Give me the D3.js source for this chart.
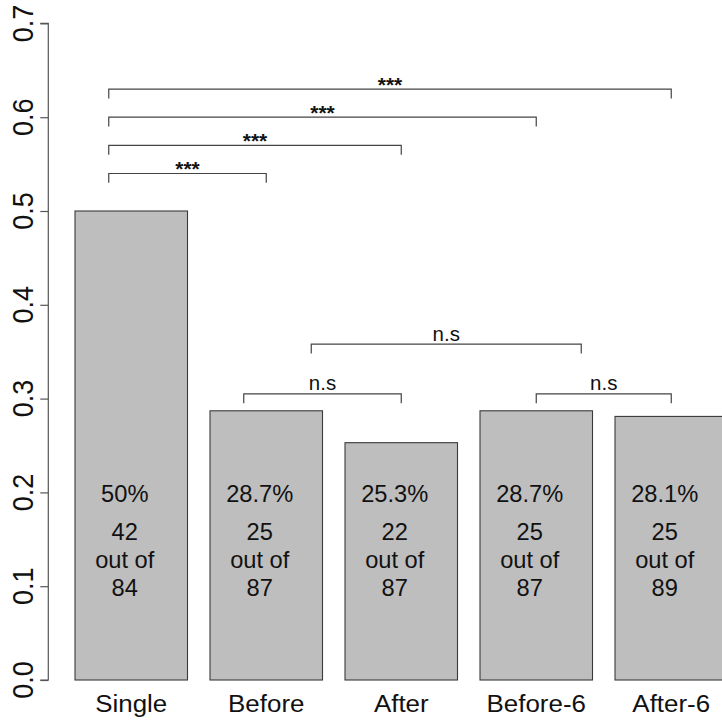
<!DOCTYPE html>
<html>
<head>
<meta charset="utf-8">
<script src="https://cdn.jsdelivr.net/npm/d3@7/dist/d3.min.js"></script>
<style>
  html, body { margin: 0; padding: 0; background: #fff; }
  svg { display: block; }
  text { font-family: "Liberation Sans", Arial, Helvetica, sans-serif; fill: #111; }
</style>
</head>
<body>
<svg id="chart" width="722" height="720"></svg>
<script>
// ---- data ----
const categories = ["Single", "Before", "After", "Before-6", "After-6"];
const proportions = [0.5, 0.287, 0.253, 0.287, 0.281];
const pctLabels = ["50%", "28.7%", "25.3%", "28.7%", "28.1%"];
const successes = [42, 25, 22, 25, 25];
const totals = [84, 87, 87, 87, 89];
const yTicks = [0, 0.1, 0.2, 0.3, 0.4, 0.5, 0.6, 0.7];

// significance comparisons (category indices) and their labels
const sigFrom = [0, 0, 0, 0, 1, 3, 1];
const sigTo = [1, 2, 3, 4, 2, 4, 3];
const sigLabels = ["***", "***", "***", "***", "n.s", "n.s", "n.s"];

// ---- layout (annotation placement, not data) ----
const sigLevel = [0.54, 0.57, 0.60, 0.63, 0.305, 0.305, 0.358];
const sigFromShift = [-0.2, -0.2, -0.2, -0.2, -0.2, 0, 0.4];
const sigToShift = [0, 0, 0, 0, 0, 0, 0.4];
const barWidth = 1, barSpace = 0.2;

const svg = d3.select("#chart");
const x = d3.scaleLinear().domain([0, 6]).range([52.5, 727.5]);
const y = d3.scaleLinear().domain([0, 0.7]).range([680, 23.4]);

const barLeft = i => barSpace + i * (barWidth + barSpace);
const barMid = i => barLeft(i) + barWidth / 2;

// bars
svg.append("g").selectAll("rect")
  .data(proportions)
  .join("rect")
  .attr("x", (d, i) => x(barLeft(i)))
  .attr("width", x(barWidth) - x(0))
  .attr("y", d => y(d))
  .attr("height", d => y(0) - y(d))
  .attr("fill", "#bebebe")
  .attr("stroke", "#3a3a3a")
  .attr("stroke-width", 1.1);

function stext(g, tx, ty, str, size, sx, rot) {
  return g.append("text")
    .attr("transform", `translate(${tx},${ty}) scale(${sx},1)` + (rot ? ` rotate(${rot})` : ""))
    .attr("text-anchor", "middle")
    .attr("font-size", size)
    .text(str);
}

// y axis
const axis = d3.axisLeft(y).tickValues(yTicks).tickSize(8).tickFormat("");
const ag = svg.append("g").attr("transform", "translate(48.3,0)").call(axis);
ag.select(".domain").attr("stroke", "#555").attr("stroke-width", 1.2).attr("d", `M-8,${y(0)}H0V${y(0.7)}H-8`);
ag.selectAll(".tick line").attr("stroke", "#555").attr("stroke-width", 1.2);
const yl = svg.append("g");
yTicks.forEach(t => {
  stext(yl, 33, y(t), d3.format(".1f")(t), 27, 1.1, -90);
});

// x labels
const xl = svg.append("g");
categories.forEach((c, i) => stext(xl, x(barMid(i)), 711.5, c, 24, 1.08));

// bar labels
const bl = svg.append("g");
const textOffset = -6.5;
proportions.forEach((p, i) => {
  const cx = x(barMid(i)) + textOffset;
  const y0 = y(0.149);
  stext(bl, cx, y(0.19), pctLabels[i], 23, 1.03);
  stext(bl, cx, y0, String(successes[i]), 23, 1.03);
  stext(bl, cx, y0 + 27.7, "out of", 23, 1.03);
  stext(bl, cx, y0 + 55.4, String(totals[i]), 23, 1.03);
});

// significance brackets
const sg = svg.append("g");
const tickLen = 0.01;
sigFrom.forEach((f, k) => {
  const x1 = x(barMid(f) + sigFromShift[k]);
  const x2 = x(barMid(sigTo[k]) + sigToShift[k]);
  const yy = y(sigLevel[k]);
  const yb = y(sigLevel[k] - tickLen);
  sg.append("path")
    .attr("d", `M${x1},${yb}V${yy}H${x2}V${yb}`)
    .attr("fill", "none")
    .attr("stroke", "#444")
    .attr("stroke-width", 1.2);
  const isStar = sigLabels[k] === "***";
  const t = stext(sg, (x1 + x2) / 2, isStar ? yy + 2.5 : yy - 3.5, sigLabels[k], isStar ? 20 : 19.5, 1.05);
  if (isStar) t.attr("font-weight", "bold");
});
</script>
</body>
</html>
